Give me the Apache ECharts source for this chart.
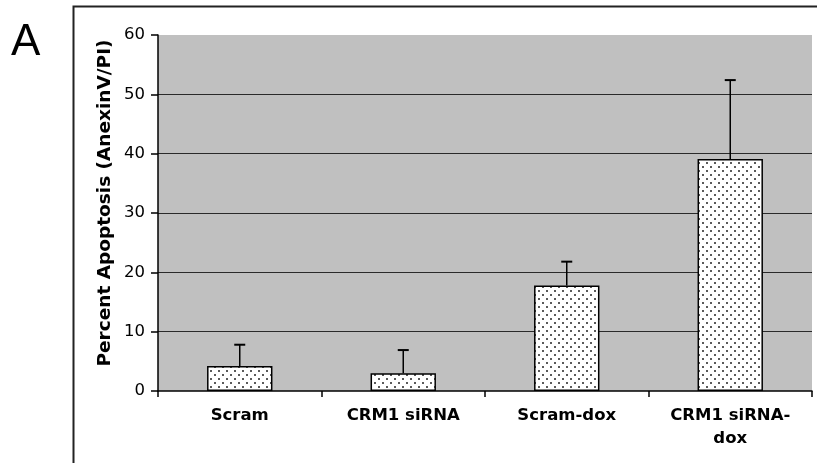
<!DOCTYPE html>
<html>
<head>
<meta charset="utf-8">
<script src="https://cdn.jsdelivr.net/npm/echarts@6/dist/echarts.min.js"></script>
<style>
html,body{margin:0;padding:0;background:#fff;}
#chart{width:817px;height:463px;}
</style>
</head>
<body>
<div id="chart"></div>
<script>
var categories = ['Scram', 'CRM1 siRNA', 'Scram-dox', 'CRM1 siRNA-\ndox'];
var values = [4.2, 3.0, 17.8, 39.1];
var errorTops = [7.8, 6.9, 21.8, 52.4];
var yTicks = [0, 10, 20, 30, 40, 50, 60];

var tile = document.createElement('canvas');
tile.width = 8; tile.height = 8;
var tc = tile.getContext('2d');
tc.fillStyle = '#ffffff';
tc.fillRect(0, 0, 8, 8);
tc.fillStyle = '#5a5a5a';
tc.fillRect(2, 2, 2, 2);
tc.fillRect(6, 6, 2, 2);

var chart = echarts.init(document.getElementById('chart'));
var errData = categories.map(function (c, i) { return [i, values[i], errorTops[i]]; });

chart.setOption({
  animation: false,
  backgroundColor: '#ffffff',
  grid: {
    left: 158, right: 5, top: 35, bottom: 72,
    show: true, backgroundColor: '#c0c0c0', borderWidth: 0
  },
  xAxis: {
    type: 'category',
    data: categories,
    axisLine: { show: true, lineStyle: { color: '#000', width: 1.5 } },
    axisTick: { show: true, length: 6, alignWithLabel: false, lineStyle: { color: '#000', width: 1.5 } },
    axisLabel: {
      interval: 0, margin: 13,
      fontFamily: 'DejaVu Sans', fontWeight: 'bold', fontSize: 16.5,
      color: '#000', lineHeight: 23
    },
    splitLine: { show: false }
  },
  yAxis: {
    type: 'value',
    min: yTicks[0], max: yTicks[yTicks.length - 1], interval: 10,
    axisLine: { show: true, lineStyle: { color: '#000', width: 1.5 } },
    axisTick: { show: true, length: 7, lineStyle: { color: '#000', width: 1.5 } },
    axisLabel: {
      margin: 13, fontFamily: 'DejaVu Sans', fontSize: 16.5, color: '#000'
    },
    splitLine: {
      show: true,
      lineStyle: { color: ['transparent', '#2a2a2a', '#2a2a2a', '#2a2a2a', '#2a2a2a', '#2a2a2a', 'transparent'], width: 1.2 }
    }
  },
  series: [
    {
      type: 'bar',
      data: values,
      barWidth: '40%',
      itemStyle: {
        color: { image: tile, repeat: 'repeat' },
        borderColor: '#000', borderWidth: 1.5
      },
      z: 2
    },
    {
      type: 'custom',
      data: errData,
      z: 3,
      renderItem: function (params, api) {
        var x = api.value(0);
        var base = api.coord([x, api.value(1)]);
        var top = api.coord([x, api.value(2)]);
        var hw = 5.5;
        return {
          type: 'group',
          children: [
            { type: 'line', shape: { x1: base[0], y1: base[1], x2: top[0], y2: top[1] },
              style: { stroke: '#000', lineWidth: 1.5 } },
            { type: 'line', shape: { x1: top[0] - hw, y1: top[1], x2: top[0] + hw, y2: top[1] },
              style: { stroke: '#000', lineWidth: 2 } }
          ]
        };
      }
    }
  ],
  graphic: [
    { type: 'rect', left: 71, top: 4, shape: { x: 0, y: 0, width: 800, height: 520 },
      style: { fill: 'none', stroke: '#222', lineWidth: 2 }, silent: true, z: -1 },
    { type: 'text', left: 11, top: 21,
      style: { text: 'A', fontFamily: 'Liberation Sans', fontSize: 44, fill: '#000' } },
    { type: 'text', x: 105, y: 203, rotation: Math.PI / 2,
      style: { text: 'Percent Apoptosis (AnexinV/PI)', fontFamily: 'DejaVu Sans', fontWeight: 'bold',
        fontSize: 18.5, fill: '#000', align: 'center', verticalAlign: 'middle' } }
  ]
});
</script>
</body>
</html>
